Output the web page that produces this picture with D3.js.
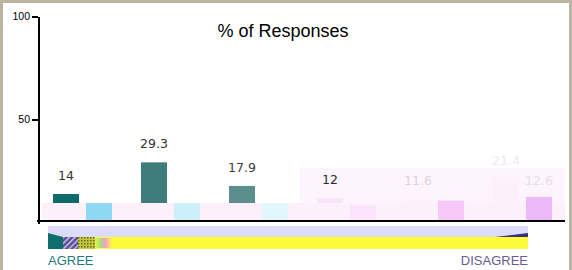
<!DOCTYPE html>
<html>
<head>
<meta charset="utf-8">
<script src="https://cdn.jsdelivr.net/npm/d3@7"></script>
<style>
body { margin: 0; background: #fff; }
#chart svg { display: block; }
.axis path, .axis line { stroke: #000; stroke-width: 2; fill: none; shape-rendering: crispEdges; }
.axis text { font-family: Arial, "Liberation Sans", sans-serif; font-size: 10.5px; fill: #000; }
.label { font-family: "DejaVu Sans", Verdana, sans-serif; font-size: 12.5px; text-anchor: middle; }
</style>
</head>
<body>
<div id="chart"></div>
<script>
// data
var categories = ["Strongly Agree", "Agree", "Slightly Agree", "Slightly Disagree", "Disagree", "Strongly Disagree"];
var series = ["first", "second"];
var firstValues = [14, 29.3, 17.9, 12, 11.6, 21.4];
var secondValues = [9.6, 9.6, 9.6, 8.6, 10.8, 12.6];
var yTicks = [50, 100];

// styles
var firstColors = ["#0f6a6a", "#3f7c7c", "#5d8e8e", "#f6e6f7", "#fcf0fc", "#fcf0fc"];
var secondColors = ["#8fd8f4", "#cdeffa", "#e2f7fb", "#fbe4fb", "#f6c8f8", "#ecb8f5"];
var labelColors = ["#333", "#333", "#3c3c3c", "#2a2a2a", "#d6d6d6", "#ececec"];

var width = 572,
    height = 270;

var svg = d3.select("#chart").append("svg")
    .attr("width", width)
    .attr("height", height);

var y = d3.scaleLinear()
    .domain([0, 100])
    .range([223, 16]);

var baseY = 221;

var x0 = d3.scaleBand()
    .domain(categories)
    .range([45, 45 + 6 * 88]);

var x1 = d3.scaleBand()
    .domain(series)
    .range([8, 67])
    .paddingInner(0.212);

// frame
svg.append("rect")
    .attr("x", 1.5)
    .attr("y", 1.5)
    .attr("width", width - 3)
    .attr("height", height + 10)
    .attr("fill", "none")
    .attr("stroke", "#bdb3a1")
    .attr("stroke-width", 3);

// washed pink area on the right side
svg.append("rect")
    .attr("x", 300)
    .attr("y", 168)
    .attr("width", 265)
    .attr("height", 35)
    .attr("fill", "#fdf4fd");

var data = categories.map(function (c, i) {
    return { cat: c, i: i, first: firstValues[i], second: secondValues[i] };
});

svg.selectAll(".bar1")
    .data(data)
    .enter().append("rect")
    .attr("class", "bar1")
    .attr("x", function (d) { return x0(d.cat) + x1("first"); })
    .attr("y", function (d) { return y(d.first); })
    .attr("width", x1.bandwidth())
    .attr("height", function (d) { return baseY - y(d.first); })
    .attr("fill", function (d) { return firstColors[d.i]; });

// pale band along the bottom of the plot
svg.append("rect")
    .attr("x", 42)
    .attr("y", 203)
    .attr("width", 523)
    .attr("height", 17)
    .attr("fill", "#fcf0fb");

svg.selectAll(".bar2")
    .data(data)
    .enter().append("rect")
    .attr("class", "bar2")
    .attr("x", function (d) { return x0(d.cat) + x1("second"); })
    .attr("y", function (d) { return y(d.second); })
    .attr("width", x1.bandwidth())
    .attr("height", function (d) { return baseY - y(d.second); })
    .attr("fill", function (d) { return secondColors[d.i]; });

svg.selectAll("text.label")
    .data(data)
    .enter().append("text")
    .attr("class", "label")
    .attr("x", function (d) { return x0(d.cat) + x1("first") + x1.bandwidth() / 2; })
    .attr("y", function (d) { return y(d.first) - 14; })
    .attr("fill", function (d) { return labelColors[d.i]; })
    .text(function (d) { return d.first; });

svg.append("text")
    .attr("class", "label")
    .attr("x", x0(categories[5]) + x1("second") + x1.bandwidth() / 2)
    .attr("y", y(secondValues[5]) - 12)
    .attr("fill", "#e2e2e2")
    .text(secondValues[5]);

// axes
svg.append("g")
    .attr("class", "y axis")
    .attr("transform", "translate(38,0)")
    .call(d3.axisLeft(y).tickValues(yTicks).tickSize(6).tickSizeOuter(0).tickPadding(2));

svg.append("line")
    .attr("x1", 37)
    .attr("x2", 565)
    .attr("y1", baseY)
    .attr("y2", baseY)
    .attr("stroke", "#000")
    .attr("stroke-width", 2);

// title
svg.append("text")
    .attr("x", 283)
    .attr("y", 37)
    .attr("text-anchor", "middle")
    .style("font-family", "Arial, 'Liberation Sans', sans-serif")
    .style("font-size", "18px")
    .text("% of Responses");

// agree / disagree strip
var defs = svg.append("defs");
var hatch = defs.append("pattern")
    .attr("id", "hatchPurple")
    .attr("width", 4).attr("height", 4)
    .attr("patternUnits", "userSpaceOnUse")
    .attr("patternTransform", "rotate(45)");
hatch.append("rect").attr("width", 4).attr("height", 4).attr("fill", "#5a4c96");
hatch.append("rect").attr("width", 1.5).attr("height", 4).attr("fill", "#c8c4e6");

var hatch2 = defs.append("pattern")
    .attr("id", "hatchGreen")
    .attr("width", 3).attr("height", 3)
    .attr("patternUnits", "userSpaceOnUse");
hatch2.append("rect").attr("width", 3).attr("height", 3).attr("fill", "#c8c83a");
hatch2.append("rect").attr("width", 1.5).attr("height", 1.5).attr("fill", "#5a6a20");

var smear = defs.append("linearGradient").attr("id", "smear");
smear.append("stop").attr("offset", "0%").attr("stop-color", "#f7e94a");
smear.append("stop").attr("offset", "30%").attr("stop-color", "#9be870");
smear.append("stop").attr("offset", "60%").attr("stop-color", "#f59ad0");
smear.append("stop").attr("offset", "100%").attr("stop-color", "#fbfb3a");

svg.append("rect")
    .attr("x", 48).attr("y", 226).attr("width", 480).attr("height", 11)
    .attr("fill", "#dcdcfa");
svg.append("rect")
    .attr("x", 48).attr("y", 237).attr("width", 480).attr("height", 12)
    .attr("fill", "#fdfa3a");
svg.append("polygon")
    .attr("points", "48,233 63,237 63,249 48,249")
    .attr("fill", "#0f6d6d");
svg.append("rect")
    .attr("x", 63).attr("y", 237).attr("width", 15).attr("height", 12)
    .attr("fill", "url(#hatchPurple)");
svg.append("rect")
    .attr("x", 78).attr("y", 237).attr("width", 17).attr("height", 12)
    .attr("fill", "url(#hatchGreen)");
svg.append("rect")
    .attr("x", 95).attr("y", 238).attr("width", 17).attr("height", 10)
    .attr("fill", "url(#smear)");
svg.append("polygon")
    .attr("points", "495,237 528,233 528,237")
    .attr("fill", "#3e2f7e");

svg.append("text")
    .attr("x", 48)
    .attr("y", 265)
    .style("font-family", "Arial, 'Liberation Sans', sans-serif")
    .style("font-size", "13px")
    .attr("fill", "#1d7a7a")
    .text("AGREE");

svg.append("text")
    .attr("x", 528)
    .attr("y", 265)
    .attr("text-anchor", "end")
    .style("font-family", "Arial, 'Liberation Sans', sans-serif")
    .style("font-size", "13px")
    .attr("fill", "#6b5b92")
    .text("DISAGREE");
</script>
</body>
</html>
